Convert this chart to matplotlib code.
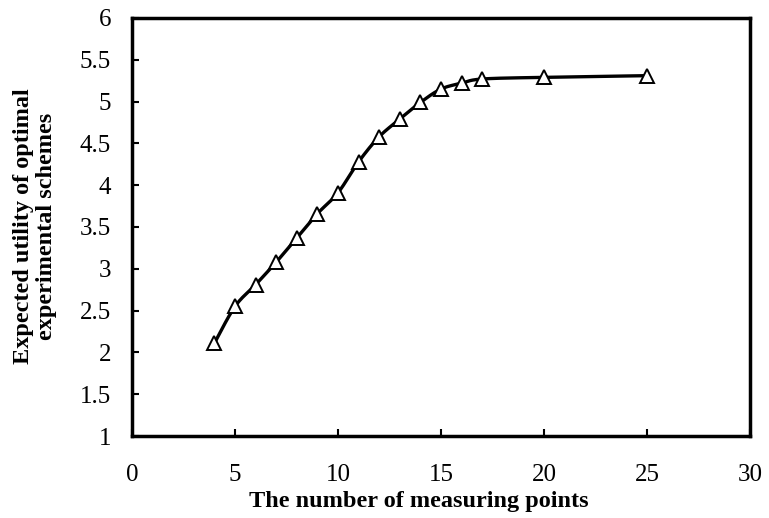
import matplotlib
matplotlib.use('Agg')
import matplotlib.pyplot as plt
import numpy as np

points = [4, 5, 6, 7, 8, 9, 10, 11, 12, 13, 14, 15, 16, 17, 20, 25]
utility = [2.11, 2.55, 2.81, 3.08, 3.37, 3.66, 3.91, 4.28, 4.58, 4.79,
           4.99, 5.15, 5.22, 5.27, 5.29, 5.31]
x_ticks = [0, 5, 10, 15, 20, 25, 30]
y_ticks = [1, 1.5, 2, 2.5, 3, 3.5, 4, 4.5, 5, 5.5, 6]
y_tick_labels = ['1', '1.5', '2', '2.5', '3', '3.5', '4', '4.5', '5', '5.5', '6']


def smooth(x, y, n=20):
    # Catmull-Rom style smoothing, like Excel's smoothed line
    x = np.asarray(x, float)
    y = np.asarray(y, float)
    px = np.concatenate([[x[0]], x, [x[-1]]])
    py = np.concatenate([[y[0]], y, [y[-1]]])
    xs, ys = [], []
    t = np.linspace(0, 1, n)
    for i in range(1, len(px) - 2):
        p0, p1, p2, p3 = [np.array([px[j], py[j]]) for j in range(i - 1, i + 3)]
        c1 = p1 + (p2 - p0) / 6
        c2 = p2 - (p3 - p1) / 6
        b = ((1 - t) ** 3)[:, None] * p1 + (3 * (1 - t) ** 2 * t)[:, None] * c1 \
            + (3 * (1 - t) * t ** 2)[:, None] * c2 + (t ** 3)[:, None] * p2
        xs.extend(b[:, 0])
        ys.extend(b[:, 1])
    return xs, ys


plt.rcParams['font.family'] = ['Liberation Serif', 'DejaVu Serif']

fig = plt.figure(figsize=(7.69, 5.18), dpi=100)
ax = fig.add_axes([0.1717, 0.1583, 0.8036, 0.807])

sx, sy = smooth(points, utility)
ax.plot(sx, sy, color='black', lw=2.4, zorder=2)
ax.plot(points, utility, linestyle='none', marker='^', markersize=10,
        markerfacecolor='white', markeredgecolor='black', markeredgewidth=1.4, zorder=3)

ax.set_xlim(0, 30)
ax.set_ylim(1, 6)
ax.set_xticks(x_ticks)
ax.set_yticks(y_ticks)
ax.set_yticklabels(y_tick_labels)
ax.tick_params(direction='in', length=5, width=1.5, labelsize=18)
ax.tick_params(axis='y', pad=15)
ax.tick_params(axis='x', pad=20)
for s in ax.spines.values():
    s.set_linewidth(2.5)

fig.text(419 / 769, 1 - 502 / 518, 'The number of measuring points', fontsize=17.5,
         fontweight='bold', ha='center', va='center')
fig.text(35 / 769, 1 - 226 / 518, 'Expected utility of optimal\nexperimental schemes',
         fontsize=17.5, fontweight='bold', rotation=90, ha='center', va='center',
         linespacing=1.12, multialignment='center')

fig.savefig('out.png', dpi=100)
